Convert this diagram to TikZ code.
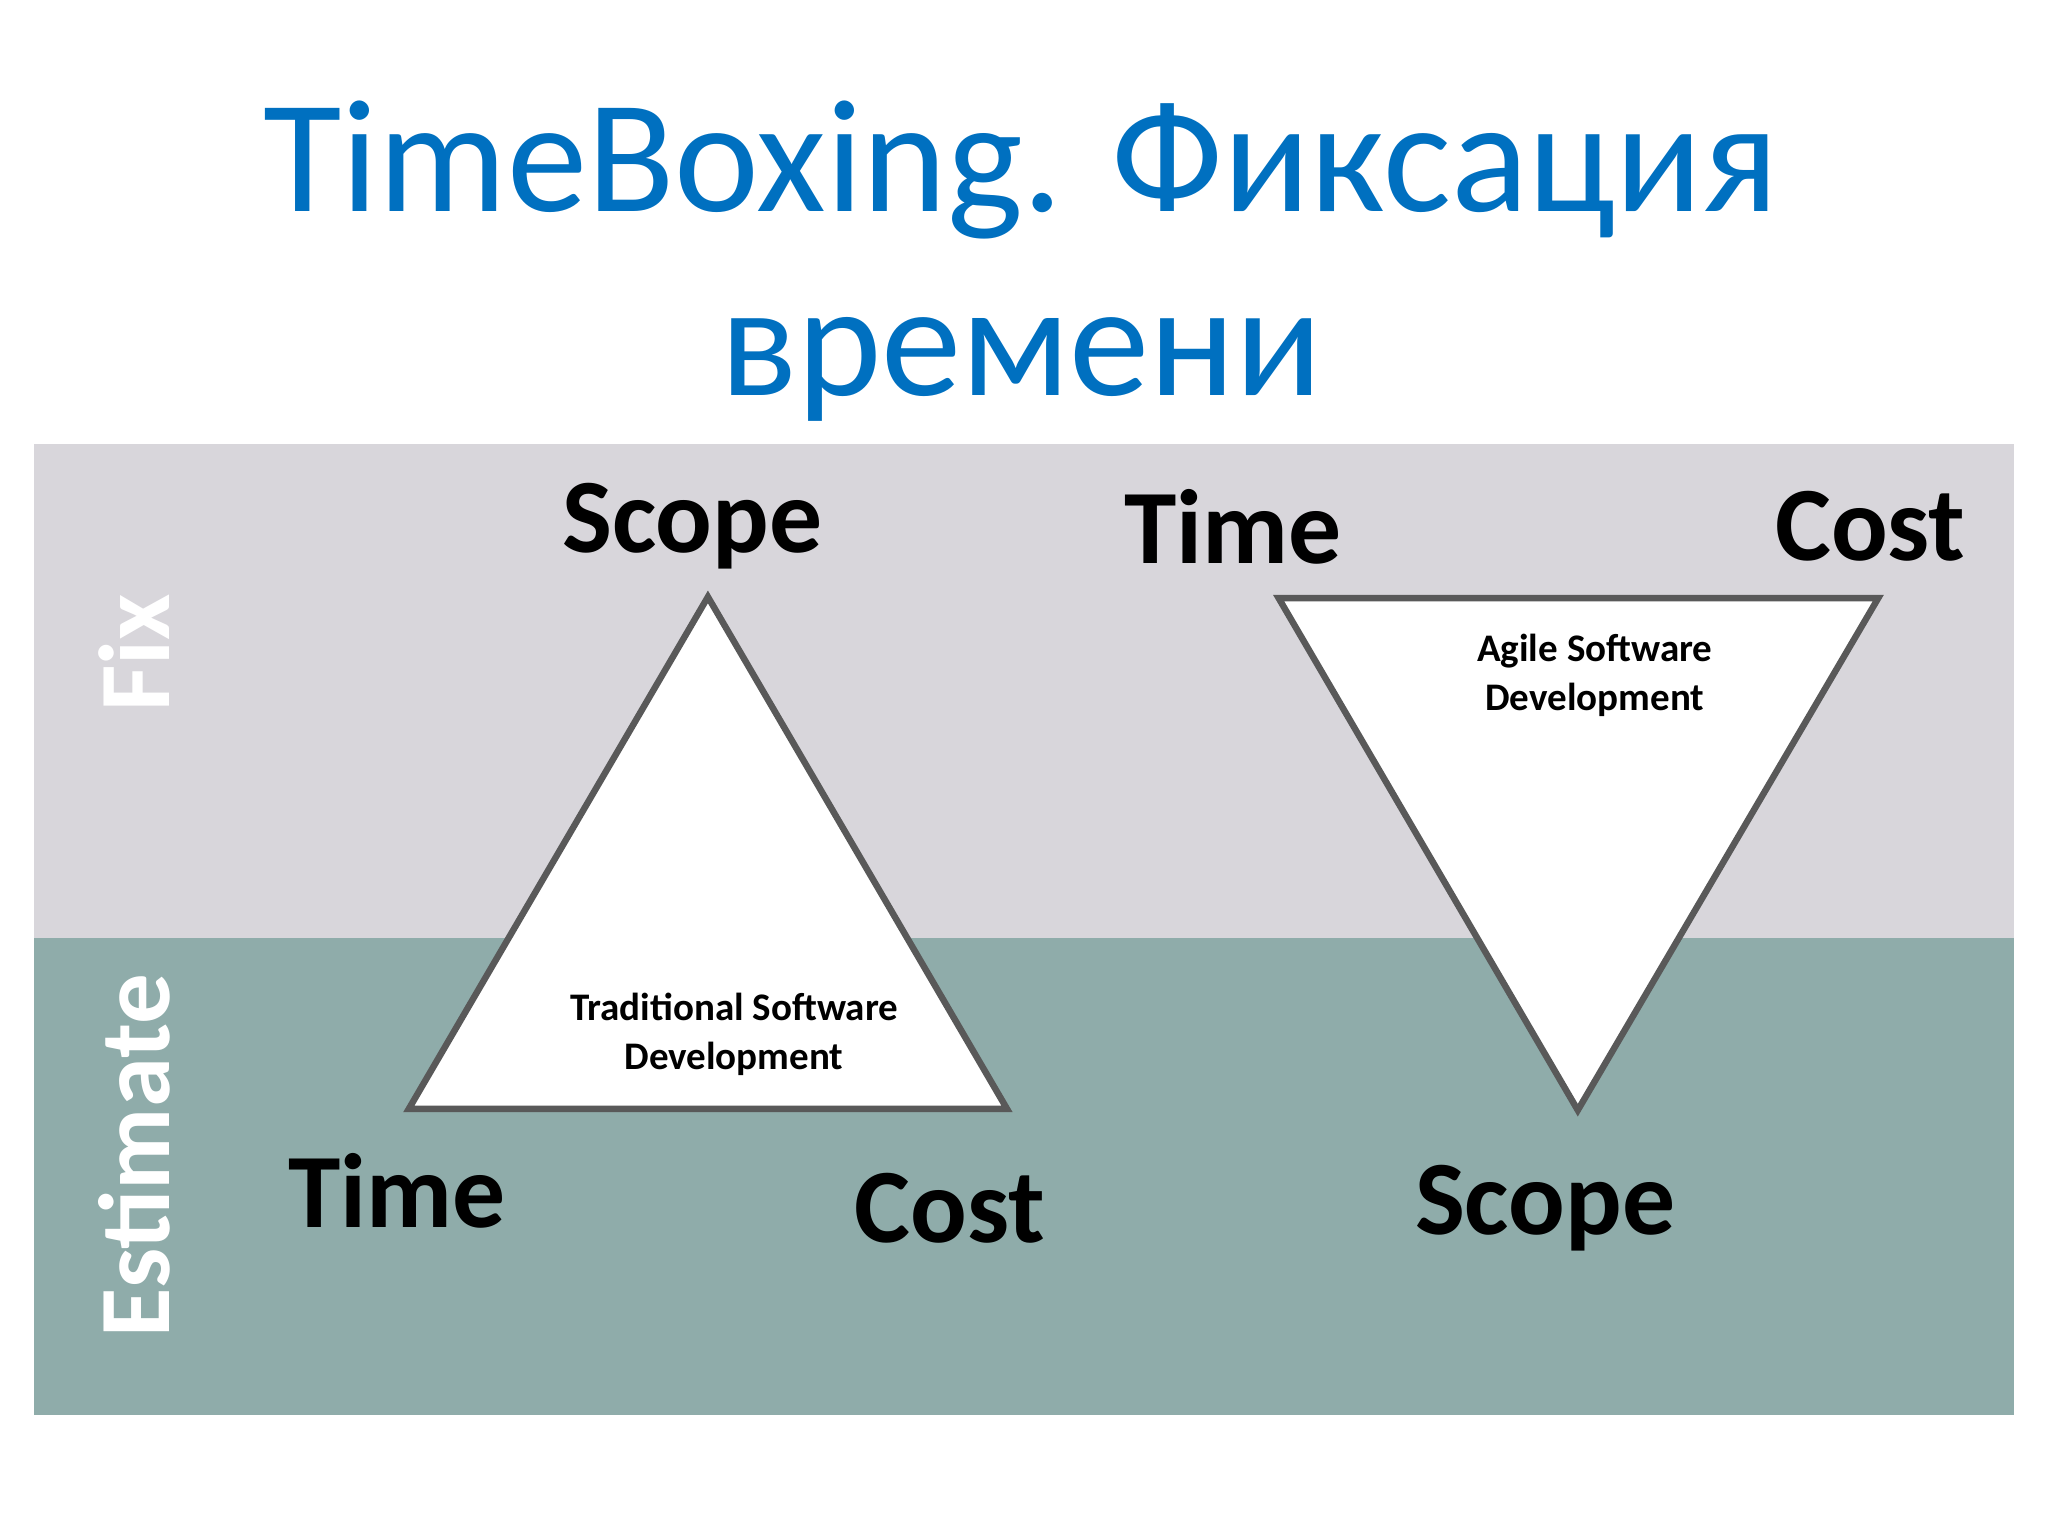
\documentclass[tikz,border=0pt]{standalone}
\usepackage{fontspec}
\setmainfont{Carlito}
\begin{document}
\begin{tikzpicture}[x=0.01cm,y=-0.01cm,
  big/.style={font=\fontsize{23}{27}\selectfont\bfseries, text=black},
  side/.style={font=\fontsize{22}{26}\selectfont\bfseries, text=white, rotate=90},
  small/.style={font=\fontsize{8.5}{10.5}\selectfont\bfseries, align=center},
  tri/.style={draw={rgb,255:red,89;green,89;blue,89}, line width=1.4pt, fill=white, line join=miter}]
\definecolor{titleblue}{RGB}{0,112,192}
\definecolor{fixgray}{RGB}{216,214,219}
\definecolor{esttea}{RGB}{143,172,170}
\useasboundingbox (0,0) rectangle (1568,1176);
\fill[white] (0,0) rectangle (1568,1176);
\fill[fixgray] (26,340) rectangle (1542,718);
\fill[esttea] (26,718) rectangle (1542,1083);
\node[text=titleblue, font=\fontsize{35}{40}\selectfont, align=center] (title) at (782,200) {TimeBoxing. Фиксация\\времени};
\node[side] (fix) at (103,500) {Fix};
\node[side] (est) at (103,885) {Estimate};
\draw[tri] (542,457) -- (771,849) -- (313,849) -- cycle;
\draw[tri] (979,458) -- (1438,458) -- (1208,850) -- cycle;
\node[small] (trad) at (562,792) {Traditional Software\\Development};
\node[small] (agile) at (1221,517) {Agile Software\\Development};
\node[big] (s1) at (530,403) {Scope};
\node[big] (t2) at (944,403) {Time};
\node[big] (c2) at (1432,403) {Cost};
\node[big] (t1) at (304,912) {Time};
\node[big] (c1) at (727,925) {Cost};
\node[big] (s2) at (1183,925) {Scope};
\end{tikzpicture}
\end{document}
